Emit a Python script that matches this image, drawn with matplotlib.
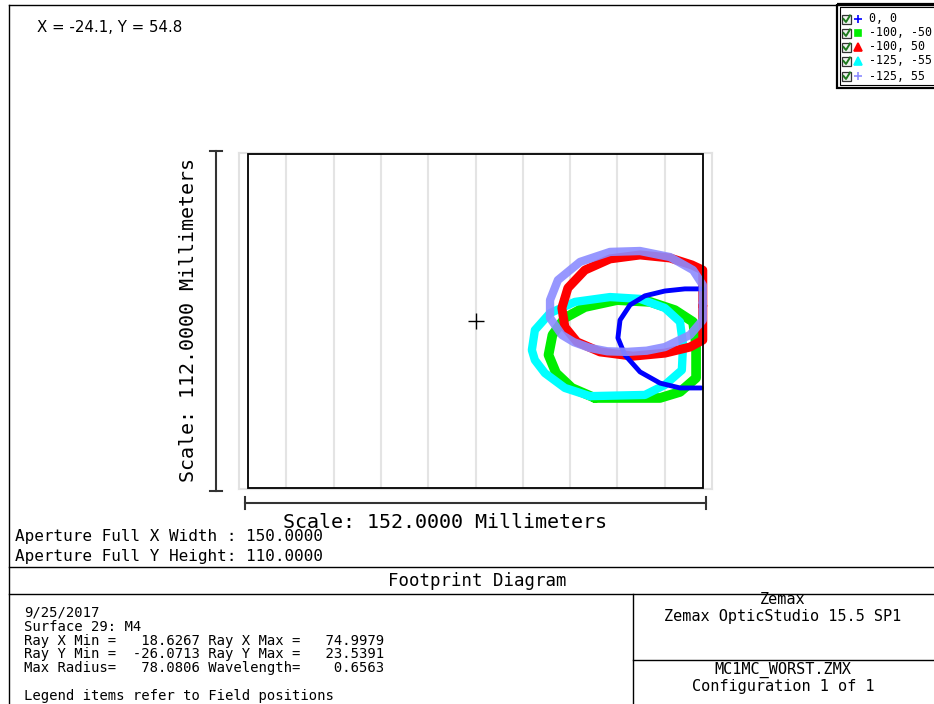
import numpy as np
import matplotlib
matplotlib.use("Agg")
import matplotlib.pyplot as plt
from matplotlib.patches import Rectangle

# footprint outlines (mm on the mirror)
fields = ["0, 0", "-100, -50", "-100, 50", "-125, -55", "-125, 55"]
colors = ["#0000ff", "#00ee00", "#ff0000", "#00ffff", "#8c8cff"]
legend_marks = ["+", "s", "^", "^", "+"]

blue_x = [75.0, 69.1, 62.5, 55.9, 51.0, 47.7, 47.0, 49.3, 54.3, 60.9, 67.5, 74.5]
blue_y = [10.6, 10.6, 9.9, 8.3, 5.3, 0.3, -5.6, -11.2, -16.8, -20.5, -22.1, -22.1]

green_x = [39.4, 31.8, 26.6, 24.1, 25.4, 29.5, 36.1, 46.7, 57.6, 65.8, 71.8, 72.8, 72.8, 67.5, 60.9, 39.4]
green_y = [-25.4, -22.1, -17.2, -11.2, -4.6, 1.0, 4.6, 6.9, 6.3, 3.6, -0.3, -7.9, -18.8, -23.4, -25.4, -25.4]

red_x = [75.0, 75.0, 70.8, 62.5, 52.0, 41.1, 33.5, 29.5, 28.5, 30.5, 36.1, 44.4, 54.3, 64.2, 71.4, 75.0, 75.0]
red_y = [5.0, -6.3, -8.6, -10.6, -11.6, -10.2, -6.9, -2.0, 4.3, 10.9, 16.8, 20.5, 21.8, 20.8, 18.5, 16.8, 5.0]

cyan_x = [37.8, 29.5, 22.9, 19.6, 18.6, 19.6, 24.6, 32.8, 44.4, 54.3, 62.5, 67.5, 68.5, 68.1, 62.5, 55.9, 37.8]
cyan_y = [-24.8, -22.1, -17.2, -12.9, -9.6, -3.0, 2.6, 6.3, 7.9, 7.3, 4.3, -0.3, -7.9, -16.2, -21.1, -24.4, -24.8]

purple_x = [75.0, 75.0, 70.8, 62.5, 56.5, 50.0, 43.5, 37.8, 32.5, 28.5, 24.6, 24.6, 27.2, 34.5, 44.4,
            54.3, 64.2, 71.8, 75.0, 75.0]
purple_y = [6.0, 0.3, -4.6, -8.6, -9.8, -10.2, -10.0, -8.9, -7.0, -4.6, 1.0, 6.9, 13.5, 19.5, 22.8,
            23.1, 21.1, 16.8, 11.9, 6.0]

aperture_w, aperture_h = 150.0, 110.0
scale_w, scale_h = 152.0, 112.0

info_left = ["9/25/2017", "Surface 29: M4",
             "Ray X Min =   18.6267 Ray X Max =   74.9979",
             "Ray Y Min =  -26.0713 Ray Y Max =   23.5391",
             "Max Radius=   78.0806 Wavelength=    0.6563",
             "",
             "Legend items refer to Field positions"]

W, H = 934, 704
PX = 3.03            # pixels per mm
CX, CY = 475.5, 321  # centre of the aperture in pixels
XR, YR = 78.0, 55.6

fig = plt.figure(figsize=(W / 100, H / 100), dpi=100)
bg = fig.add_axes([0, 0, 1, 1])
bg.set_xlim(0, W)
bg.set_ylim(H, 0)
bg.axis("off")

mono = "DejaVu Sans Mono"

# frame lines of the report page
k = dict(color="black", lw=1.0)
bg.plot([9, W], [5, 5], **k)
bg.plot([9, 9], [5, H], **k)
bg.plot([9, W], [567, 567], **k)
bg.plot([9, W], [594, 594], **k)
bg.plot([633, 633], [594, H], **k)
bg.plot([633, W], [660, 660], **k)

bg.text(37, 27, "X = -24.1, Y = 54.8", fontsize=10.8, va="center", ha="left")

# legend box
bg.add_patch(Rectangle((837, 4), 110, 84, fill=False, ec="black", lw=1.6))
bg.add_patch(Rectangle((840, 7), 110, 78, fill=False, ec="black", lw=0.8))
rows = [19, 33, 47, 61, 76]
for r, lab, c, m in zip(rows, fields, colors, legend_marks):
    bg.add_patch(Rectangle((842, r - 4.5), 9, 9, fc="#eef3ee", ec="#333333", lw=0.9))
    bg.plot([843.5, 846, 850], [r, r + 3, r - 3.5], color="#1e7a1e", lw=1.4)
    bg.plot([858], [r], marker=m, color=c, ms=6 if m != "s" else 4.5, mew=1.2, ls="none")
    bg.text(869, r, lab, fontsize=8.4, family=mono, va="center", ha="left")

# plot area
ax = fig.add_axes([(CX - XR * PX) / W, (H - (CY + YR * PX)) / H,
                   2 * XR * PX / W, 2 * YR * PX / H])
ax.set_xlim(-XR, XR)
ax.set_ylim(-YR, YR)
ax.set_xticks([])
ax.set_yticks([])
for s in ax.spines.values():
    s.set_color("#e2e2e2")
    s.set_linewidth(1.5)

for gx in np.arange(1, 10) * (2 * XR / 10) - XR:
    ax.axvline(gx, color="#e4e4e4", lw=1.5, zorder=0)

ax.add_patch(Rectangle((-aperture_w / 2, -aperture_h / 2), aperture_w, aperture_h,
                       fill=False, ec="black", lw=1.3, zorder=6))
ax.plot([0], [0], marker="+", color="black", ms=11, mew=1.0, zorder=7)

style = dict(solid_joinstyle="round", solid_capstyle="round")
ax.plot(green_x, green_y, color=colors[1], lw=7, zorder=2, **style)
ax.plot(cyan_x, cyan_y, color=colors[3], lw=6, zorder=3, **style)
ax.plot(red_x, red_y, color=colors[2], lw=6.5, zorder=3, **style)
ax.plot(blue_x, blue_y, color=colors[0], lw=3.5, zorder=4, **style)
ax.plot(purple_x, purple_y, color=colors[4], lw=6, alpha=0.9, zorder=5, **style)

# scale bars
sy = -60.2
ax.plot([-scale_w / 2, scale_w / 2], [sy, sy], color="#333333", lw=1.5, clip_on=False)
for e in (-scale_w / 2, scale_w / 2):
    ax.plot([e, e], [sy - 2, sy + 2], color="#333333", lw=1.5, clip_on=False)
sx = -85.6
ax.plot([sx, sx], [-scale_h / 2, scale_h / 2], color="#333333", lw=1.5, clip_on=False)
for e in (-scale_h / 2, scale_h / 2):
    ax.plot([sx - 2, sx + 2], [e, e], color="#333333", lw=1.5, clip_on=False)

bg.text(445, 522, "Scale: 152.0000 Millimeters", fontsize=14.4, family=mono, ha="center", va="center")
bg.text(188, 320, "Scale: 112.0000 Millimeters", fontsize=14.4, family=mono, ha="center", va="center",
        rotation=90)
bg.text(15, 537, "Aperture Full X Width : 150.0000", fontsize=11.5, family=mono, va="center")
bg.text(15, 557, "Aperture Full Y Height: 110.0000", fontsize=11.5, family=mono, va="center")

bg.text(477, 581, "Footprint Diagram", fontsize=12.5, family=mono, ha="center", va="center")
for i, t in enumerate(info_left):
    bg.text(24, 613 + i * 13.8, t, fontsize=10, family=mono, va="center")

for y, t in [(600, "Zemax"), (616, "Zemax OpticStudio 15.5 SP1"),
             (670, "MC1MC_WORST.ZMX"), (686, "Configuration 1 of 1")]:
    bg.text(783, y, t, fontsize=11, family=mono, ha="center", va="center")

fig.savefig("out.png", dpi=100)
